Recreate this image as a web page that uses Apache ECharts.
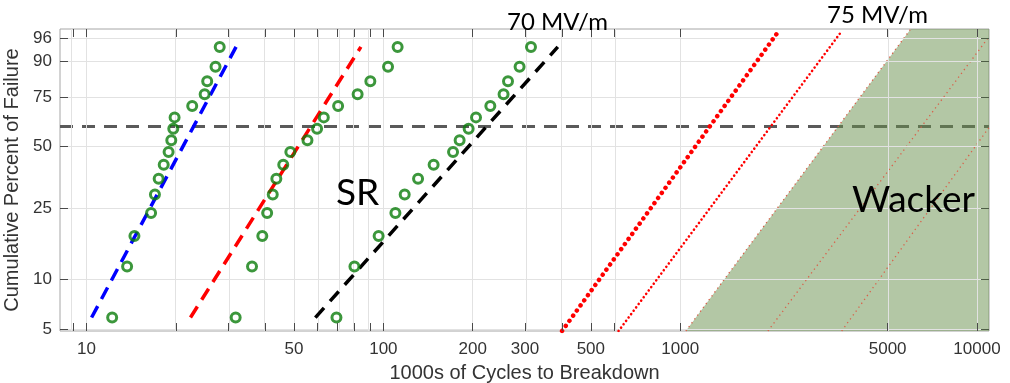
<!DOCTYPE html>
<html><head><meta charset="utf-8">
<script src="https://cdn.jsdelivr.net/npm/echarts@6/dist/echarts.min.js"></script>
<style>html,body{margin:0;padding:0;background:#fff}#c{width:1010px;height:383px}</style>
</head><body><div id="c"></div>
<script>
// ---------------- data ----------------
// cumulative percent of failure for the 16 ranked samples of each group
const pctRanks = [5.9, 11.8, 17.6, 23.5, 29.4, 35.3, 41.2, 47.1, 52.9, 58.8, 64.7, 70.6, 76.5, 82.4, 88.2, 94.1];
// thousands of cycles to breakdown
const cyclesA = [12.2, 13.7, 14.5, 16.5, 17.0, 17.5, 18.2, 18.9, 19.3, 19.6, 19.8, 22.7, 25.0, 25.5, 27.2, 28.1];
const cyclesB = [31.8, 36.1, 39.1, 40.6, 42.4, 43.6, 46.0, 48.6, 55.5, 59.8, 63.0, 70.4, 81.9, 90.4, 103.7, 111.7];
const cyclesC = [69.5, 79.9, 96.4, 109.8, 118.0, 130.9, 147.7, 171.7, 180.7, 193.8, 205.2, 229.3, 254.1, 263.0, 287.7, 314.3];
// Weibull fit lines [cycles, percent]
const fitA = [[10.4, 5.9], [31.9, 94.1]];
const fitB = [[22.4, 5.9], [84.0, 94.1]];
const fitC = [[59.0, 5.9], [387, 94.1]];
// reference level (percent)
const refPct = 60;
// extrapolated lines [cycles, percent]
const line70 = [[400, 4.9], [2130, 96.9]];
const line75 = [[620, 4.9], [3500, 97.1]];
const wackerBoundary = [[1045, 4.9], [5980, 97.4], [10975, 97.4]];
const wackerEdge = [[1045, 4.9], [5980, 97.4]];
const wackerA = [[1975, 4.9], [10975, 96.2]];
const wackerB = [[3500, 4.9], [10975, 59.4]];
// axes
const xRange = [8.14, 10975];
const yRange = [4.9, 97.4];
const xGridVals = [9, 10, 20, 30, 40, 50, 60, 70, 80, 90, 100, 200, 300, 400, 500, 600, 1000, 5000, 10000];
const xLabelVals = [10, 50, 100, 200, 300, 500, 1000, 5000, 10000];
const yTickVals = [5, 10, 25, 50, 75, 90, 96];

// ---------------- helpers ----------------
const wb = p => Math.log(-Math.log(1 - p / 100));
const lg = v => Math.log10(v);
const pt = ([x, p]) => [lg(x), wb(p)];
const pts = (xs) => xs.map((c, i) => [lg(c), wb(pctRanks[i])]);

const axisFont = 'Liberation Sans, Arial, sans-serif';
const tickColor = '#4a4a4a';

const chart = echarts.init(document.getElementById('c'), null, {renderer: 'canvas'});

function lineSeries(data, color, width, dash, z, cap) {
  return {
    type: 'line', data: data.map(pt), symbol: 'none', z: z, silent: true,
    lineStyle: {color: color, width: width, type: dash, cap: cap || 'butt'}
  };
}
function scatterSeries(xs) {
  return {
    type: 'scatter', data: pts(xs), symbol: 'circle', symbolSize: 9, z: 8, silent: true,
    itemStyle: {color: 'rgba(0,0,0,0)', borderColor: '#0b7d0b', borderWidth: 3}
  };
}

const xMin = lg(xRange[0]), xMax = lg(xRange[1]);
const yMin = wb(yRange[0]), yMax = wb(yRange[1]);

const xTickCfg = {inside: true, length: 8, customValues: xGridVals.map(lg), lineStyle: {color: tickColor}};
const yTickCfg = {inside: true, length: 8, customValues: yTickVals.map(wb), lineStyle: {color: tickColor}};

const option = {
  animation: false,
  backgroundColor: '#fff',
  grid: {left: 60, right: 21, top: 29, bottom: 52, outerBoundsMode: 'none', containLabel: false,
    show: true, borderColor: '#a6a6a6', borderWidth: 1, backgroundColor: 'transparent'},
  xAxis: [{
    type: 'value', position: 'bottom', min: xMin, max: xMax, z: 10,
    axisLine: {show: false, onZero: false}, splitLine: {show: false},
    axisTick: xTickCfg,
    axisLabel: {customValues: xLabelVals.map(lg), formatter: v => String(Math.round(Math.pow(10, v))),
      fontSize: 17, color: '#333', margin: 10, fontFamily: axisFont},
    name: '1000s of Cycles to Breakdown', nameLocation: 'middle', nameGap: 32,
    nameTextStyle: {fontSize: 20, color: '#333', fontFamily: axisFont}
  }, {
    type: 'value', position: 'top', min: xMin, max: xMax, z: 10,
    axisLine: {show: false, onZero: false}, splitLine: {show: false},
    axisLabel: {show: false, customValues: xGridVals.map(lg)},
    axisTick: xTickCfg
  }],
  yAxis: [{
    type: 'value', position: 'left', min: yMin, max: yMax, z: 10,
    axisLine: {show: false, onZero: false}, splitLine: {show: false},
    axisTick: yTickCfg,
    axisLabel: {customValues: yTickVals.map(wb), formatter: v => String(Math.round(100 * (1 - Math.exp(-Math.exp(v))))),
      fontSize: 17, color: '#333', margin: 8, fontFamily: axisFont},
    name: 'Cumulative Percent of Failure', nameLocation: 'middle', nameGap: 31,
    nameTextStyle: {fontSize: 20, color: '#333', fontFamily: axisFont}
  }, {
    type: 'value', position: 'right', min: yMin, max: yMax, z: 10,
    axisLine: {show: false, onZero: false}, splitLine: {show: false},
    axisLabel: {show: false, customValues: yTickVals.map(wb)},
    axisTick: {inside: true, length: 8, customValues: yTickVals.map(wb), lineStyle: {color: '#4d5e45'}}
  }],
  series: [
    { // grid lines
      type: 'line', data: [], z: 1, silent: true,
      markLine: {
        silent: true, symbol: ['none', 'none'], label: {show: false}, animation: false,
        lineStyle: {color: '#e2e2e2', width: 1, type: 'solid'},
        emphasis: {disabled: true},
        data: xGridVals.map(v => ({xAxis: lg(v)})).concat(yTickVals.map(p => ({yAxis: wb(p)})))
      }
    },
    { // reference level
      type: 'line', data: [[xMin, wb(refPct)], [xMax, wb(refPct)]], symbol: 'none', z: 2, silent: true,
      lineStyle: {color: '#5a5a5a', width: 3, type: [13, 9]}
    },
    { // Wacker region
      type: 'line', data: wackerBoundary.map(pt), symbol: 'none', z: 3, silent: true,
      lineStyle: {width: 0}, areaStyle: {color: 'rgba(103,143,75,0.5)', opacity: 1, origin: 'start'}
    },
    lineSeries(wackerEdge, '#d8604a', 1.3, [1.3, 3.5], 4),
    lineSeries(wackerA, '#d8604a', 1.3, [1.3, 3.5], 4),
    lineSeries(wackerB, '#d8604a', 1.3, [1.3, 3.5], 4),
    lineSeries(line70, '#ff0000', 4.5, [0.01, 6.3], 5, 'round'),
    lineSeries(line75, '#ff0000', 2.6, [0.01, 4.2], 5, 'round'),
    lineSeries(fitA, '#0000ff', 3.5, [13, 8], 6),
    lineSeries(fitB, '#ff0000', 3.5, [13, 8], 6),
    lineSeries(fitC, '#000000', 3.5, [13, 9], 6),
    scatterSeries(cyclesA),
    scatterSeries(cyclesB),
    scatterSeries(cyclesC)
  ],
  graphic: [
    {type: 'text', z: 20, x: 336, y: 193.5, style: {text: 'SR', font: '37px Lato, "Open Sans", sans-serif', fill: '#000', verticalAlign: 'middle'}},
    {type: 'text', z: 20, x: 852, y: 200.5, style: {text: 'Wacker', font: '37px Lato, "Open Sans", sans-serif', fill: '#000', verticalAlign: 'middle'}},
    {type: 'text', z: 20, x: 507, y: 22.5, style: {text: '70 MV/m', font: '24px Lato, "Open Sans", sans-serif', fill: '#000', verticalAlign: 'middle'}},
    {type: 'text', z: 20, x: 827, y: 15.5, style: {text: '75 MV/m', font: '24px Lato, "Open Sans", sans-serif', fill: '#000', verticalAlign: 'middle'}}
  ]
};
chart.setOption(option);
</script>
</body></html>
